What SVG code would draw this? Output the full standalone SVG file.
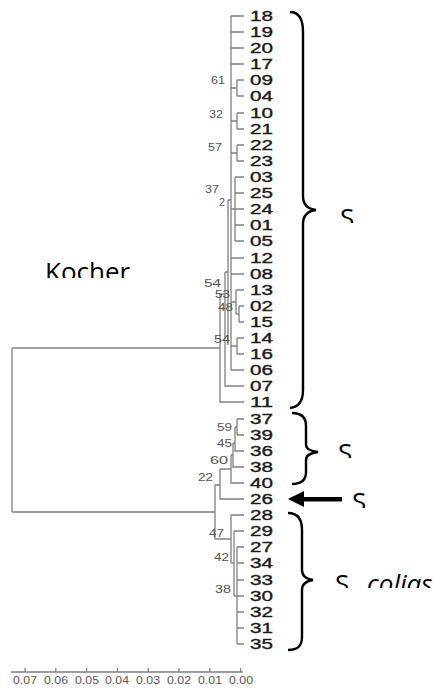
<svg xmlns="http://www.w3.org/2000/svg" width="441" height="689" viewBox="0 0 441 689">
<style>
.br{stroke:#808080;stroke-width:1.3;fill:none}
.leaf{font-family:"Liberation Sans",Arial,sans-serif;font-size:14px;fill:#1a1a1a;stroke:#1a1a1a;stroke-width:0.35}
.bs{font-family:"Liberation Sans",Arial,sans-serif;font-size:11px;fill:#555}
.ax{font-family:"Liberation Sans",Arial,sans-serif;font-size:10px;fill:#555}
.brace{stroke:#000;stroke-width:2.4;fill:none}
.lab{font-family:"Open Sans","Liberation Sans",sans-serif;font-size:26px;fill:#000}
</style>
<defs>
<clipPath id="labclip" clipPathUnits="userSpaceOnUse">
<rect x="30" y="250" width="120" height="28"/>
<rect x="330" y="195" width="40" height="28"/>
<rect x="330" y="430" width="40" height="28"/>
<rect x="345" y="480" width="40" height="28"/>
<rect x="325" y="560" width="116" height="28"/>
</clipPath>
</defs>
<g id="connectors">
<path class="br" d="M12,348V512M12,348H220M12,512H215"/>
<path class="br" d="M220,294V402H244M220,294H225M225,272V386H244M225,272H228M228,200V345M228,200H231"/>
<path class="br" d="M231,16V370M231,16H244M231,32H244M231,48H244M231,64H244M231,258H244M231,274H244M231,370H244"/>
<path class="br" d="M231,88H237M237,80V96M237,80H244M237,96H244"/>
<path class="br" d="M231,121H237M237,113V129M237,113H244M237,129H244"/>
<path class="br" d="M231,153H237M237,145V161M237,145H244M237,161H244"/>
<path class="br" d="M231,209H235M235,177V241M235,177H244M235,193H244M235,209H244M235,225H244M235,241H244"/>
<path class="br" d="M231,302H236M236,290V314M236,290H244M236,314H239M239,306V322M239,306H244M239,322H244"/>
<path class="br" d="M231,346H237M237,338V354M237,338H244M237,354H244"/>
<path class="br" d="M215,485V539M215,485H220M220,469V499H244M220,469H231M231,455V483H244M231,455H233M233,443V467H244M233,443H235M235,427V451H244M235,427H237M237,419V435M237,419H244M237,435H244"/>
<path class="br" d="M215,539H231M231,515V563M231,515H244M231,563H234M234,531V596M234,531H244M234,596H237M237,547V644M237,547H244M237,563H244M237,580H244M237,596H244M237,612H244M237,628H244M237,644H244"/>
</g>
<g id="leaves">
<text class="leaf" x="250" y="21" textLength="23" lengthAdjust="spacingAndGlyphs">18</text>
<text class="leaf" x="250" y="37" textLength="23" lengthAdjust="spacingAndGlyphs">19</text>
<text class="leaf" x="250" y="53" textLength="23" lengthAdjust="spacingAndGlyphs">20</text>
<text class="leaf" x="250" y="69" textLength="23" lengthAdjust="spacingAndGlyphs">17</text>
<text class="leaf" x="250" y="85" textLength="23" lengthAdjust="spacingAndGlyphs">09</text>
<text class="leaf" x="250" y="101" textLength="23" lengthAdjust="spacingAndGlyphs">04</text>
<text class="leaf" x="250" y="118" textLength="23" lengthAdjust="spacingAndGlyphs">10</text>
<text class="leaf" x="250" y="134" textLength="23" lengthAdjust="spacingAndGlyphs">21</text>
<text class="leaf" x="250" y="150" textLength="23" lengthAdjust="spacingAndGlyphs">22</text>
<text class="leaf" x="250" y="166" textLength="23" lengthAdjust="spacingAndGlyphs">23</text>
<text class="leaf" x="250" y="182" textLength="23" lengthAdjust="spacingAndGlyphs">03</text>
<text class="leaf" x="250" y="198" textLength="23" lengthAdjust="spacingAndGlyphs">25</text>
<text class="leaf" x="250" y="214" textLength="23" lengthAdjust="spacingAndGlyphs">24</text>
<text class="leaf" x="250" y="230" textLength="23" lengthAdjust="spacingAndGlyphs">01</text>
<text class="leaf" x="250" y="246" textLength="23" lengthAdjust="spacingAndGlyphs">05</text>
<text class="leaf" x="250" y="263" textLength="23" lengthAdjust="spacingAndGlyphs">12</text>
<text class="leaf" x="250" y="279" textLength="23" lengthAdjust="spacingAndGlyphs">08</text>
<text class="leaf" x="250" y="295" textLength="23" lengthAdjust="spacingAndGlyphs">13</text>
<text class="leaf" x="250" y="311" textLength="23" lengthAdjust="spacingAndGlyphs">02</text>
<text class="leaf" x="250" y="327" textLength="23" lengthAdjust="spacingAndGlyphs">15</text>
<text class="leaf" x="250" y="343" textLength="23" lengthAdjust="spacingAndGlyphs">14</text>
<text class="leaf" x="250" y="359" textLength="23" lengthAdjust="spacingAndGlyphs">16</text>
<text class="leaf" x="250" y="375" textLength="23" lengthAdjust="spacingAndGlyphs">06</text>
<text class="leaf" x="250" y="391" textLength="23" lengthAdjust="spacingAndGlyphs">07</text>
<text class="leaf" x="250" y="407" textLength="23" lengthAdjust="spacingAndGlyphs">11</text>
<text class="leaf" x="250" y="424" textLength="23" lengthAdjust="spacingAndGlyphs">37</text>
<text class="leaf" x="250" y="440" textLength="23" lengthAdjust="spacingAndGlyphs">39</text>
<text class="leaf" x="250" y="456" textLength="23" lengthAdjust="spacingAndGlyphs">36</text>
<text class="leaf" x="250" y="472" textLength="23" lengthAdjust="spacingAndGlyphs">38</text>
<text class="leaf" x="250" y="488" textLength="23" lengthAdjust="spacingAndGlyphs">40</text>
<text class="leaf" x="250" y="504" textLength="23" lengthAdjust="spacingAndGlyphs">26</text>
<text class="leaf" x="250" y="520" textLength="23" lengthAdjust="spacingAndGlyphs">28</text>
<text class="leaf" x="250" y="536" textLength="23" lengthAdjust="spacingAndGlyphs">29</text>
<text class="leaf" x="250" y="552" textLength="23" lengthAdjust="spacingAndGlyphs">27</text>
<text class="leaf" x="250" y="568" textLength="23" lengthAdjust="spacingAndGlyphs">34</text>
<text class="leaf" x="250" y="585" textLength="23" lengthAdjust="spacingAndGlyphs">33</text>
<text class="leaf" x="250" y="601" textLength="23" lengthAdjust="spacingAndGlyphs">30</text>
<text class="leaf" x="250" y="617" textLength="23" lengthAdjust="spacingAndGlyphs">32</text>
<text class="leaf" x="250" y="633" textLength="23" lengthAdjust="spacingAndGlyphs">31</text>
<text class="leaf" x="250" y="649" textLength="23" lengthAdjust="spacingAndGlyphs">35</text>
</g>
<g id="bootstrap">
<text class="bs" x="211" y="84" textLength="14" lengthAdjust="spacingAndGlyphs">61</text>
<text class="bs" x="209" y="118" textLength="14" lengthAdjust="spacingAndGlyphs">32</text>
<text class="bs" x="208" y="151" textLength="14" lengthAdjust="spacingAndGlyphs">57</text>
<text class="bs" x="205" y="193" textLength="14" lengthAdjust="spacingAndGlyphs">37</text>
<text class="bs" x="219" y="206" textLength="6" lengthAdjust="spacingAndGlyphs">2</text>
<text class="bs" x="204" y="287" textLength="17" lengthAdjust="spacingAndGlyphs">54</text>
<text class="bs" x="215" y="298" textLength="15" lengthAdjust="spacingAndGlyphs">53</text>
<text class="bs" x="218" y="311" textLength="15" lengthAdjust="spacingAndGlyphs">48</text>
<text class="bs" x="214" y="343" textLength="16" lengthAdjust="spacingAndGlyphs">54</text>
<text class="bs" x="217" y="431" textLength="15" lengthAdjust="spacingAndGlyphs">59</text>
<text class="bs" x="217" y="447" textLength="15" lengthAdjust="spacingAndGlyphs">45</text>
<text class="bs" x="210" y="464" textLength="18" lengthAdjust="spacingAndGlyphs">60</text>
<text class="bs" x="198" y="481" textLength="15" lengthAdjust="spacingAndGlyphs">22</text>
<text class="bs" x="209" y="537" textLength="15" lengthAdjust="spacingAndGlyphs">47</text>
<text class="bs" x="214" y="561" textLength="15" lengthAdjust="spacingAndGlyphs">42</text>
<text class="bs" x="215" y="593" textLength="16" lengthAdjust="spacingAndGlyphs">38</text>
</g>
<g id="scale">
<path class="br" d="M11,672H243M25,668V672M55.8,668V672M86.6,668V672M117.4,668V672M148.2,668V672M179,668V672M209.8,668V672M240.6,668V672"/>
<text class="ax" x="13" y="684" textLength="24" lengthAdjust="spacingAndGlyphs">0.07</text>
<text class="ax" x="44" y="684" textLength="24" lengthAdjust="spacingAndGlyphs">0.06</text>
<text class="ax" x="75" y="684" textLength="24" lengthAdjust="spacingAndGlyphs">0.05</text>
<text class="ax" x="105" y="684" textLength="24" lengthAdjust="spacingAndGlyphs">0.04</text>
<text class="ax" x="136" y="684" textLength="24" lengthAdjust="spacingAndGlyphs">0.03</text>
<text class="ax" x="167" y="684" textLength="24" lengthAdjust="spacingAndGlyphs">0.02</text>
<text class="ax" x="198" y="684" textLength="24" lengthAdjust="spacingAndGlyphs">0.01</text>
<text class="ax" x="229" y="684" textLength="24" lengthAdjust="spacingAndGlyphs">0.00</text>
</g>
<g id="braces">
<path class="brace" d="M290,12C300,12 303,20 303,32L303,196C303,205 308,209 316,210C308,211 303,215 303,224L303,390C303,400 300,407 290,408"/>
<path class="brace" d="M292,413C302,413 306,418 306,426L306,445C306,449 310,451 318,452C310,453 306,455 306,460L306,472C306,480 302,484 292,484"/>
<path class="brace" d="M288,513C298,513 302,519 302,530L302,570C302,576 306,579 313,580C306,581 302,584 302,590L302,637C302,646 298,650 288,650"/>
</g>
<g id="arrow">
<rect x="302" y="497" width="40" height="4.5" fill="#000"/>
<polygon points="288,499 304,491 304,507" fill="#000"/>
</g>
<g id="labels" clip-path="url(#labclip)">
<text class="lab" x="45" y="281">Kocher</text>
<text class="lab" x="340" y="227">S</text>
<text class="lab" x="338" y="462">S</text>
<text class="lab" x="352" y="511">S</text>
<text class="lab" x="335" y="593">S <tspan x="367" font-style="italic">colias</tspan></text>
</g>
</svg>
